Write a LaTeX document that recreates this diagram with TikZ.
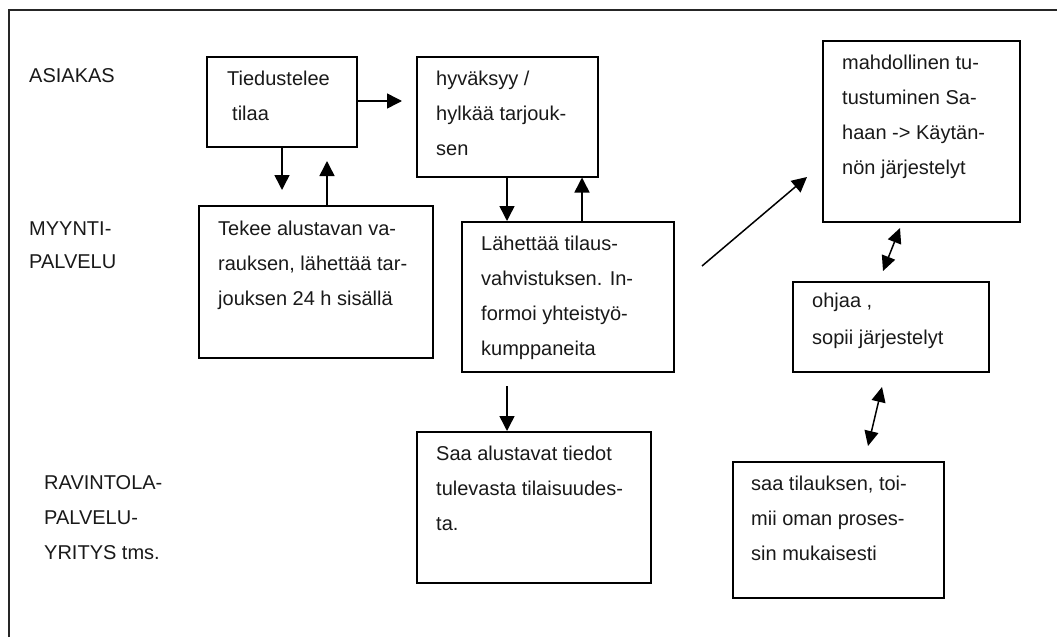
\documentclass[tikz,border=0pt]{standalone}
\usepackage{fontspec}
\setmainfont{Liberation Sans}
\usetikzlibrary{arrows.meta,calc}

% multi-line text block whose reference point is the first baseline
\newcommand\rows[2][35pt]{{\fontsize{20}{#1}\selectfont\begin{tabular}[t]{@{}l@{}}#2\end{tabular}}}

\begin{document}
\begin{tikzpicture}[x=1pt,y=-1pt,
  box/.style={draw, line width=1.5pt, rectangle, inner sep=0pt, anchor=north west},
  txt/.style={inner sep=0pt, anchor=base west, text=black!90},
  arr/.style={line width=1.5pt, -{Triangle[length=15pt,width=15pt]}},
  darr/.style={line width=1.5pt, {Triangle[length=15pt,width=14pt]}-{Triangle[length=15pt,width=14pt]}},
  frame/.style={line width=1.5pt, draw=black!85}]

\useasboundingbox (0,0) rectangle (1057,637);

% outer frame
\draw[frame] (9,637) -- (9,10) -- (1057,10);

% row labels
\node[txt] (lasiakas) at (29,82) {\rows{ASIAKAS}};
\node[txt] (lmyynti) at (29,235) {\rows[33pt]{MYYNTI-\\PALVELU}};
\node[txt] (lravintola) at (44,489) {\rows{RAVINTOLA-\\PALVELU-\\YRITYS tms.}};

% process boxes
\node[box, minimum width=150pt, minimum height=90pt] (b1) at (206,56) {};
\node[box, minimum width=181pt, minimum height=120pt] (b2) at (416,56) {};
\node[box, minimum width=234pt, minimum height=152pt] (b3) at (198,205) {};
\node[box, minimum width=212pt, minimum height=150pt] (b4) at (461,221) {};
\node[box, minimum width=197pt, minimum height=181pt] (b5) at (822,40) {};
\node[box, minimum width=196pt, minimum height=90pt] (b6) at (792,281) {};
\node[box, minimum width=211pt, minimum height=136pt] (b7) at (732,461) {};
\node[box, minimum width=234pt, minimum height=151pt] (b8) at (416,431) {};

% box texts
\node[txt] (t1) at (227,85) {\rows{Tiedustelee\\\hspace*{5pt}tilaa}};
\node[txt] (t2) at (436,85) {\rows{hyväksyy /\\hylkää tarjouk-\\sen}};
\node[txt] (t3) at (218,235) {\rows{Tekee alustavan va-\\rauksen, lähettää tar-\\jouksen 24 h sisällä}};
\node[txt] (t4) at (481,250) {\rows{Lähettää tilaus-\\vahvistuksen. In-\\formoi yhteistyö-\\kumppaneita}};
\node[txt] (t5) at (842,69) {\rows{mahdollinen tu-\\tustuminen Sa-\\haan -> Käytän-\\nön järjestelyt}};
\node[txt] (t6) at (812,307) {\rows[37pt]{ohjaa ,\\sopii järjestelyt}};
\node[txt] (t7) at (751,490) {\rows{saa tilauksen, toi-\\mii oman proses-\\sin mukaisesti}};
\node[txt] (t8) at (436,460) {\rows{Saa alustavat tiedot\\tulevasta tilaisuudes-\\ta.}};

% free ends of the connectors
\coordinate (a1e) at (282,190);
\coordinate (a2s) at (327,161);
\coordinate (a3e) at (402,101);
\coordinate (a4x) at (507,0);
\coordinate (a5x) at (582,0);
\coordinate (a6s) at (702,266);
\coordinate (a6e) at (807,177);
\coordinate (a7s) at (900,228);
\coordinate (a7e) at (883,271);
\coordinate (a8s) at (882,387);
\coordinate (a8e) at (868,446);
\coordinate (a9s) at (507,386);

% connectors
\draw[arr] (b1.south -| a1e) -- (a1e);
\draw[arr] (b3.north -| a2s) -- (a2s);
\draw[arr] (b1.east |- a3e) -- (a3e);
\draw[arr] (b2.south -| a4x) -- (b4.north -| a4x);
\draw[arr] (b4.north -| a5x) -- (b2.south -| a5x);
\draw[arr] (a6s) -- (a6e);
\draw[darr] (a7s) -- (a7e);
\draw[darr] (a8s) -- (a8e);
\draw[arr] (a9s) -- (b8.north -| a9s);

\end{tikzpicture}
\end{document}
